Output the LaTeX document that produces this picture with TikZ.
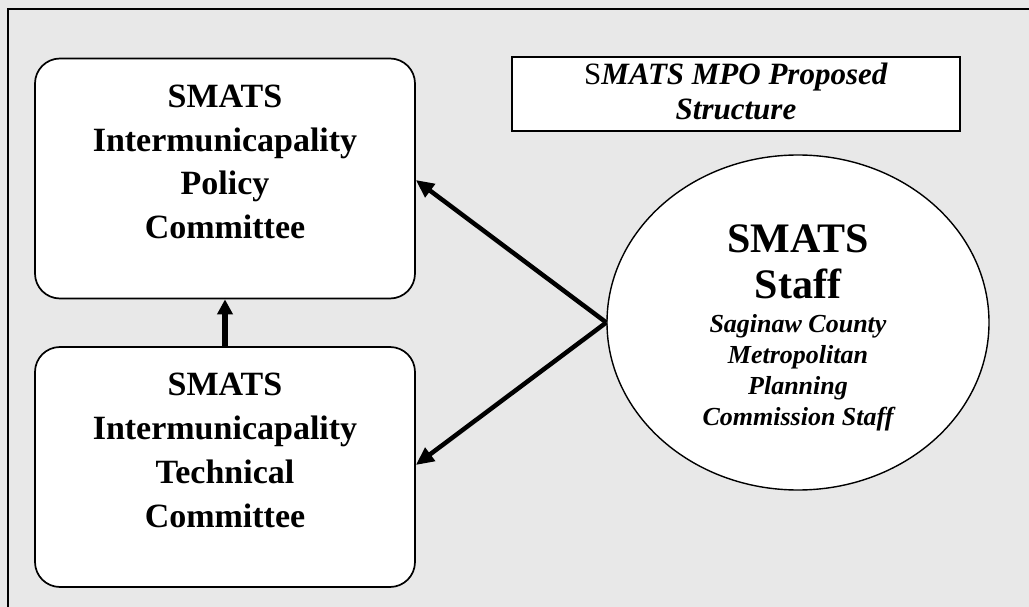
\documentclass[tikz,border=0pt]{standalone}
\usepackage{fontspec}
\setmainfont{Liberation Serif}
\usetikzlibrary{shapes.geometric,arrows.meta}
\definecolor{bg}{HTML}{E8E8E8}
\begin{document}
\begin{tikzpicture}[x=1pt,y=-1pt,
  box/.style={draw, line width=1.7pt, rounded corners=25pt, fill=white,
    minimum width=380pt, minimum height=240pt, inner sep=0pt},
  boxtext/.style={anchor=base, align=center, font=\fontsize{34}{44}\selectfont\bfseries},
  conn/.style={line width=4.5pt, -{Triangle[length=18pt,width=16pt]}},
]
\useasboundingbox (0,0) rectangle (1029,607);
\fill[bg] (0,0) rectangle (1029,607);
\draw[line width=2pt] (8,607) -- (8,9) -- (1029,9);

\node[box] (policy) at (225,178.5) {};
\node[boxtext] (policytext) at (225,239) {SMATS\\Intermunicapality\\Policy\\Committee};

\node[box] (tech) at (225,467) {};
\node[boxtext] (techtext) at (225,527) {SMATS\\Intermunicapality\\Technical\\Committee};

\node[draw, line width=1.5pt, fill=white, minimum width=448pt, minimum height=74pt,
  inner sep=0pt] (title) at (736,94) {};
\node[anchor=base, align=center, font=\fontsize{31}{35}\selectfont] (titletext) at (736,120)
  {S\textbf{\textit{MATS MPO Proposed}}\\\textbf{\textit{Structure}}};

\node[ellipse, draw, line width=1.4pt, fill=white, minimum width=382pt,
  minimum height=335pt, inner sep=0pt] (staff) at (798,322.5) {};
\node[anchor=base, align=center, font=\fontsize{42}{46}\selectfont\bfseries] (stafftitle) at (798,298) {SMATS\\Staff};
\node[anchor=base, align=center, font=\fontsize{26}{31}\selectfont\bfseries\itshape] (staffsub) at (798,425)
  {Saginaw County\\Metropolitan\\Planning\\Commission Staff};

\draw[conn] (staff.west) -- (policy.east |- 0,180);
\draw[conn] (staff.west) -- (tech.east |- 0,465);
\draw[line width=5.5pt, -{Triangle[length=15pt,width=15pt]}] (tech.north) -- (policy.south);
\end{tikzpicture}
\end{document}
